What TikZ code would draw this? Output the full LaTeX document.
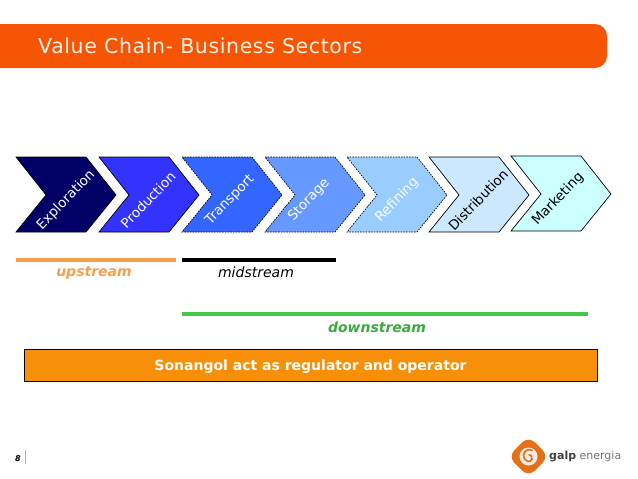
\documentclass[tikz,border=0pt]{standalone}
\usepackage{fontspec}
\setmainfont{DejaVu Sans}
\definecolor{titlebar}{HTML}{F55505}
\definecolor{upcol}{HTML}{F4A04A}
\definecolor{downcol}{HTML}{44C84A}
\definecolor{boxcol}{HTML}{F79008}
\definecolor{c1}{HTML}{000066}
\definecolor{c2}{HTML}{3333FF}
\definecolor{c3}{HTML}{3366FF}
\definecolor{c4}{HTML}{6699FF}
\definecolor{c5}{HTML}{99CCFF}
\definecolor{c6}{HTML}{CCE8FF}
\definecolor{c7}{HTML}{CCFFFF}
\definecolor{logocol}{HTML}{E0701A}
\tikzset{
  stage/.style={font=\fontsize{13.5}{15}\selectfont, rotate=46, inner sep=0pt},
  solidedge/.style={draw=black, line width=0.7pt},
  dashedge/.style={draw=black, line width=0.7pt, dash pattern=on 1.5pt off 1.2pt},
  bar/.style={line width=4pt},
  spanlabel/.style={font=\fontsize{14}{16}\selectfont\itshape, inner sep=0pt}
}
\begin{document}
\begin{tikzpicture}[x=1pt, y=-1pt]
    \useasboundingbox (0, 0) rectangle (638, 479);

    % title
    \fill[titlebar, rounded corners=12pt] (-20, 24) rectangle (607, 68);
    \node[anchor=west, text=white!90!orange, inner sep=0pt, font=\fontsize{20.5}{22}\selectfont] (title) at (38, 46) {\addfontfeature{LetterSpace=3}Value Chain- Business Sectors};

    % chevrons
    \foreach \x/\ty/\dy/\col/\tcol/\edge/\name/\txt in {
        16/66/0/c1/white/solidedge/n1/Exploration,
        99/148/0/c2/white/solidedge/n2/Production,
        182/230/0/c3/white/dashedge/n3/Transport,
        265/309/0/c4/white/dashedge/n4/Storage,
        347/397/0/c5/white/dashedge/n5/Refining,
        429/478/0/c6/black/solidedge/n6/Distribution,
        511/558/-1/c7/black/solidedge/n7/Marketing} {
        \fill[\col, \edge] (\x, 157+\dy) -- (\x+70, 157+\dy) -- (\x+100, 195+\dy) -- (\x+70, 232+\dy)
            -- (\x, 232+\dy) -- (\x+30, 195+\dy) -- cycle;
        \node[stage, text=\tcol] (\name) at (\ty, 200+\dy) {\txt};
    }

    % bars
    \coordinate (u1) at (16, 260);
    \coordinate (u2) at (176, 260);
    \coordinate (m1) at (182, 260);
    \coordinate (m2) at (336, 260);
    \coordinate (d1) at (182, 314);
    \coordinate (d2) at (588, 314);
    \draw[bar, upcol] (u1) -- (u2);
    \draw[bar, black] (m1) -- (m2);
    \draw[bar, downcol] (d1) -- (d2);
    \node[spanlabel, text=upcol, font=\fontsize{14}{16}\selectfont\bfseries\itshape] (up) at (94, 273.5) {upstream};
    \node[spanlabel] (mid) at (256, 272.5) {midstream};
    \node[spanlabel, text=downcol!85!black, font=\fontsize{14}{16}\selectfont\bfseries\itshape] (down) at (377, 327.5) {downstream};

    % regulator box
    \node[draw=black, fill=boxcol, line width=0.7pt, minimum width=573pt, minimum height=32pt, inner sep=0pt] (reg) at (310.5, 365) {};
    \node[text=white, inner sep=0pt, font=\fontsize{14}{16}\selectfont\bfseries] (regtext) at (310.5, 366.5) {Sonangol act as regulator and operator};

    % page number
    \node[inner sep=0pt, font=\fontsize{8}{10}\selectfont\bfseries\itshape] (page) at (18, 459) {8};
    \draw[upcol, line width=0.6pt] (25, 450) -- (25, 464);

    % logo
    \fill[logocol, rounded corners=9pt] (528.5, 436) -- (549, 456.5) -- (528.5, 477) -- (508, 456.5) -- cycle;
    \fill[white!85!logocol] (528.5, 456.5) circle[radius=9];
    \draw[logocol, line width=1.6pt] (532.5, 450.5) arc[start angle=-60, end angle=-250, radius=6] arc[start angle=110, end angle=-90, radius=3.5];
    \node[anchor=west, inner sep=0pt, text=black!75, font=\fontsize{11}{13}\selectfont] (logo) at (549, 457) {\textbf{galp} \textcolor{black!55}{energia}};
\end{tikzpicture}
\end{document}
